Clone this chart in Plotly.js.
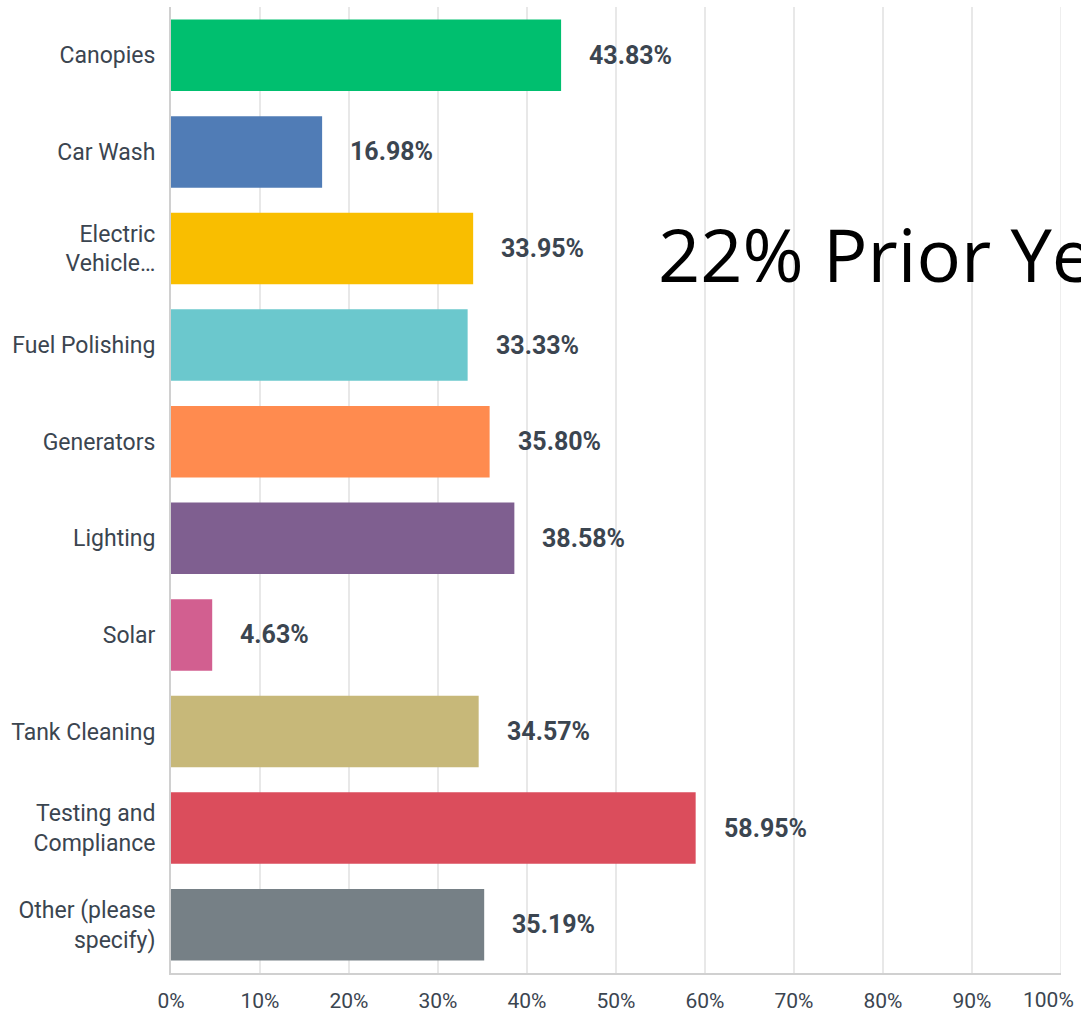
<!DOCTYPE html>
<html>
<head>
<meta charset="utf-8">
<script src="https://cdn.plot.ly/plotly-3.0.1.min.js"></script>
<style>html,body{margin:0;padding:0;background:#fff;}#chart{width:1081px;height:1015px;}</style>
</head>
<body>
<div id="chart"></div>
<script>
const categories = ["Canopies", "Car Wash", "Electric<br>Vehicle…", "Fuel Polishing", "Generators", "Lighting", "Solar", "Tank Cleaning", "Testing and<br>Compliance", "Other (please<br>specify)"];
const values = [43.83, 16.98, 33.95, 33.33, 35.80, 38.58, 4.63, 34.57, 58.95, 35.19];
const barColors = ["#00BF6F", "#507CB6", "#F9BE00", "#6BC8CD", "#FF8B4F", "#7F5F90", "#D25F90", "#C7B879", "#DB4D5C", "#768086"];
const tickVals = [0, 10, 20, 30, 40, 50, 60, 70, 80, 90, 100];
const tickText = ["0%", "10%", "20%", "30%", "40%", "50%", "60%", "70%", "80%", "90%", "100%"];
const overlayText = "22% Prior Year";

const labelColor = "#3b4550";

const trace = {
  type: "bar",
  orientation: "h",
  x: values,
  y: categories,
  marker: {color: barColors, line: {width: 0}},
  hoverinfo: "none"
};

const annotations = values.map((v, i) => ({
  x: v, y: categories[i], xref: "x", yref: "y",
  text: v.toFixed(2) + "%",
  showarrow: false, xanchor: "left", yanchor: "middle", xshift: 26,
  font: {family: "Roboto", size: 25, color: labelColor, weight: "bold"}
}));
// last tick label is pulled inside the page, as in the reference
const lastIdx = tickVals.length - 1;
annotations.push({
  x: tickVals[lastIdx], y: 0, xref: "x", yref: "paper",
  text: tickText[lastIdx], showarrow: false,
  xanchor: "right", yanchor: "middle", xshift: 15, yshift: -27,
  font: {family: "Roboto", size: 21, color: labelColor}
});
annotations.push({
  xref: "paper", yref: "paper", x: (656 - 171) / 890, y: (973 - 253) / 966,
  xanchor: "left", yanchor: "middle", showarrow: false,
  text: overlayText,
  font: {family: "Open Sans", size: 74, color: "#000000"}
});

const layout = {
  width: 1081, height: 1015,
  margin: {l: 171, r: 20, t: 7, b: 42, pad: 0},
  paper_bgcolor: "#ffffff", plot_bgcolor: "#ffffff",
  bargap: 0.26,
  showlegend: false,
  xaxis: {
    range: [0, 100], tickvals: tickVals.slice(0, lastIdx), ticktext: tickText.slice(0, lastIdx),
    showgrid: true, gridcolor: "#e8e8e8", gridwidth: 1.5,
    zeroline: false, showline: true, linecolor: "#d0d0d0", linewidth: 2,
    ticks: "", ticklabelstandoff: 8,
    tickfont: {family: "Roboto", size: 21, color: labelColor},
    fixedrange: true
  },
  shapes: [{
    type: "line", xref: "x", yref: "paper", x0: tickVals[lastIdx], x1: tickVals[lastIdx], y0: 0, y1: 1,
    line: {color: "#e8e8e8", width: 1.5}, layer: "below"
  }],
  yaxis: {
    autorange: "reversed", type: "category",
    showgrid: false, zeroline: false, showline: true, linecolor: "#d0d0d0", linewidth: 2,
    ticks: "", ticklabelstandoff: 9,
    tickfont: {family: "Roboto", size: 23, color: labelColor},
    fixedrange: true
  },
  annotations: annotations
};

Plotly.newPlot("chart", [trace], layout, {displayModeBar: false, staticPlot: true});
</script>
</body>
</html>
